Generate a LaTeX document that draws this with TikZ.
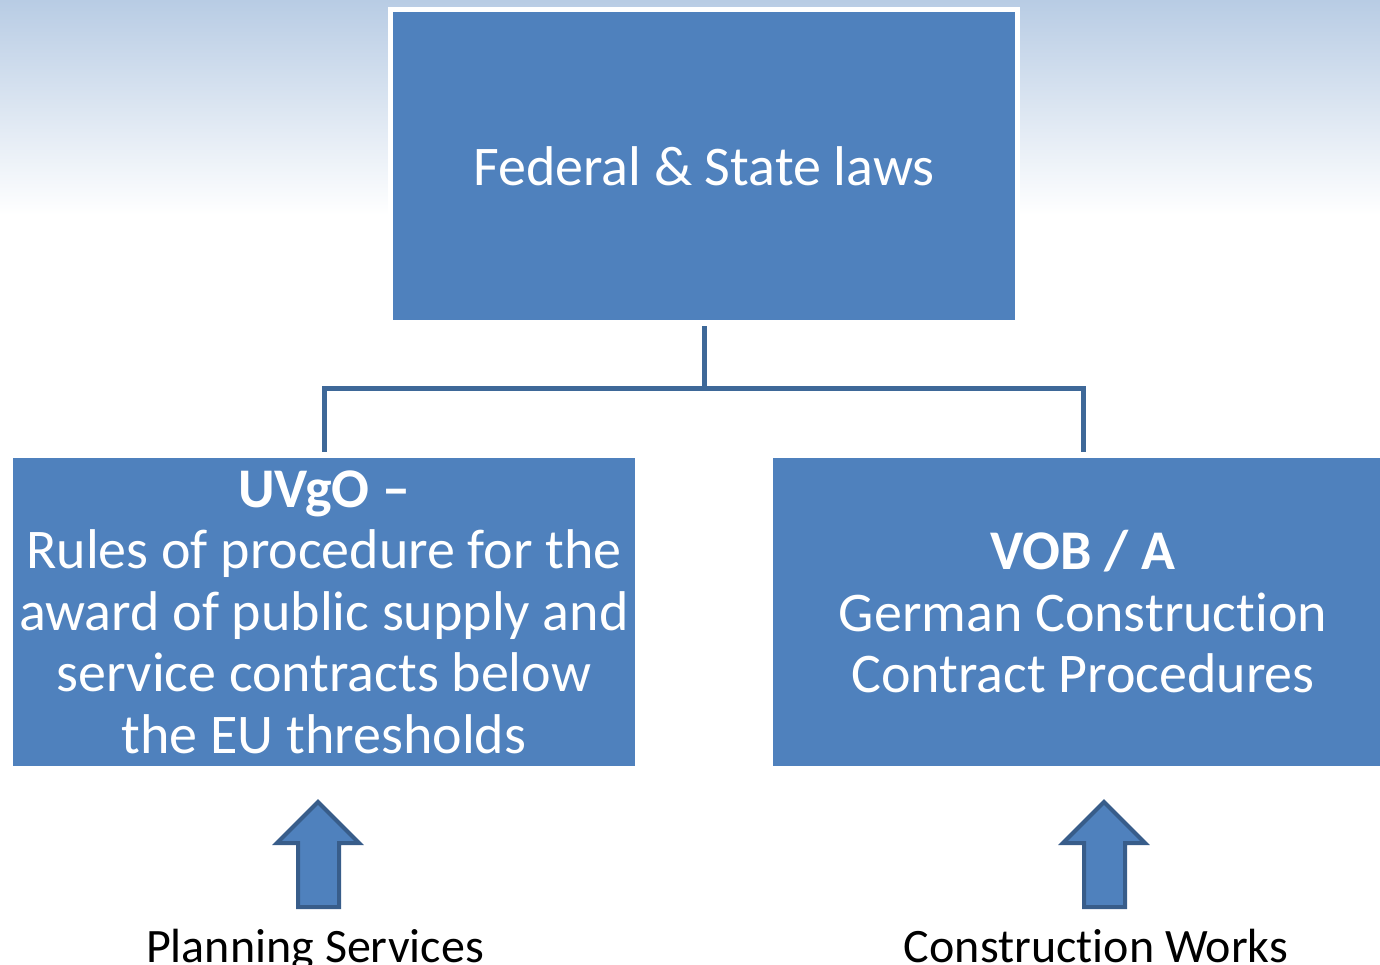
\documentclass[tikz,border=0pt]{standalone}
\usepackage{fontspec}
\setmainfont{Carlito}[Ligatures=NoCommon]
\definecolor{boxblue}{RGB}{79,129,189}
\definecolor{lineblue}{RGB}{62,104,152}
\definecolor{edgeblue}{RGB}{56,93,138}
\definecolor{skyblue}{RGB}{184,204,228}
\tikzset{
  bluebox/.style={fill=boxblue, text=white, align=center, inner sep=0pt},
  conn/.style={draw=lineblue, line width=5pt},
  uparrow/.style={draw=edgeblue, fill=boxblue, line width=4pt, line join=miter},
  lab/.style={text=black, anchor=base, inner sep=0pt, font=\fontsize{48}{57}\selectfont}
}
\begin{document}
\begin{tikzpicture}[x=1pt,y=-1pt]
\clip (0,0) rectangle (1380,964);
\fill[white] (0,0) rectangle (1380,964);
\shade[top color=skyblue, bottom color=white] (0,0) rectangle (1380,215);
\node[bluebox, draw=white, line width=5pt, minimum width=627pt, minimum height=313pt,
      font=\fontsize{56}{66}\selectfont] (top) at (704,166) {Federal \& State laws};
\node[bluebox, minimum width=622pt, minimum height=308pt,
      font=\fontsize{56}{61.5}\selectfont] (left) at (324,612)
  {\textbf{UVgO –}\\Rules of procedure for the\\award of public supply and\\service contracts below\\the EU thresholds};
\node[bluebox, minimum width=620pt, minimum height=308pt,
      font=\fontsize{56}{61.5}\selectfont] (right) at (1083,612)
  {\textbf{VOB / A}\\German Construction\\Contract Procedures};
\coordinate (mid) at (704,388);
\draw[conn, shorten <=1pt] (top.south) -- (mid);
\draw[conn, shorten <=6pt, shorten >=6pt] (left.north) |- (mid) -| (right.north);
\draw[uparrow] (318,802) -- (359,843) -- (339,843) -- (339,907) -- (298,907) -- (298,843) -- (277,843) -- cycle;
\draw[uparrow] (1104,802) -- (1145,843) -- (1125,843) -- (1125,907) -- (1084,907) -- (1084,843) -- (1063,843) -- cycle;
\node[lab] (ps) at (315,962) {Planning Services};
\node[lab] (cw) at (1096,962) {Construction Works};
\end{tikzpicture}
\end{document}
